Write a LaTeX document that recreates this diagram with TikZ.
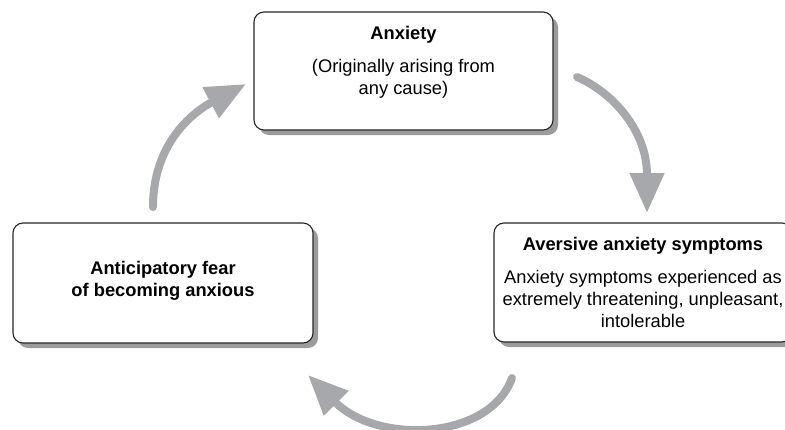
\documentclass[tikz,border=0pt]{standalone}
\usepackage{fontspec}
\setmainfont{Liberation Sans}
\usetikzlibrary{arrows.meta,shadows}
\definecolor{arrowgray}{HTML}{A7A8AB}
\definecolor{shadowgray}{HTML}{9B9B9B}
\tikzset{
  card/.style={draw=black!85, line width=1.1pt, rounded corners=10pt, fill=white,
    inner sep=0pt,
    drop shadow={shadow xshift=5pt, shadow yshift=-5pt, fill=shadowgray, opacity=1}},
  cardtitle/.style={anchor=base, inner sep=0pt,
    font=\fontsize{18.3}{22}\selectfont\bfseries},
  % multi-line nodes: the base anchor sits on the last line's baseline
  cardbody/.style={anchor=base, align=center, inner sep=0pt,
    font=\fontsize{18.3}{22}\selectfont},
  cyclearrow/.style={draw=arrowgray, line width=8pt, line cap=round,
    -{Triangle[length=40pt,width=33pt]}},
}
\begin{document}
\begin{tikzpicture}[x=1pt,y=-1pt]
  \useasboundingbox (0,0) rectangle (785,429);
  \clip (0,0) rectangle (785,429);

  % the three stages of the cycle
  \node[card, minimum width=299pt, minimum height=118pt] (anx) at (403.5,71) {};
  \node[card, minimum width=300pt, minimum height=120pt] (fear) at (163,283) {};
  \node[card, minimum width=298pt, minimum height=119pt] (avers) at (643,282.5) {};

  \node[cardtitle] (anxT) at (403.5,39) {Anxiety};
  \node[cardbody] (anxB) at (403.5,94) {(Originally arising from\\any cause)};

  \node[cardbody, font=\fontsize{18.3}{22}\selectfont\bfseries] (fearT) at (163,296)
    {Anticipatory fear\\of becoming anxious};

  \node[cardtitle] (aversT) at (643,250) {Aversive anxiety symptoms};
  \node[cardbody] (aversB) at (643,327)
    {Anxiety symptoms experienced as\\extremely threatening, unpleasant,\\intolerable};

  % curved arrows linking the stages
  \coordinate (a1s) at (153,207);
  \coordinate (a1e) at (246,84);
  \coordinate (a2s) at (577,77);
  \coordinate (a2e) at (647,213);
  \coordinate (a3s) at (512,378);
  \coordinate (a3e) at (308,375);

  \draw[cyclearrow] (a1s) .. controls (153,140) and (197,110) .. (a1e);
  \draw[cyclearrow] (a2s) .. controls (612,92) and (647,130) .. (a2e);
  \draw[cyclearrow] (a3s) .. controls (490,440) and (378,445) .. (a3e);
\end{tikzpicture}
\end{document}
